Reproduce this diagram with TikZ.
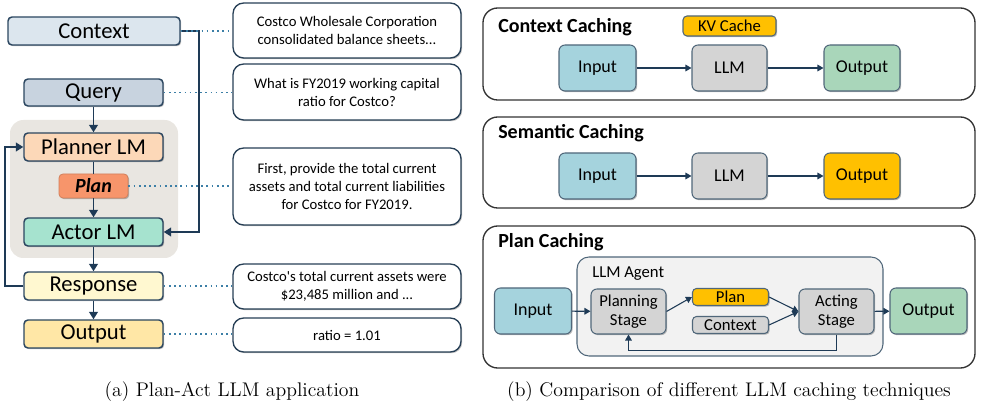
\documentclass[tikz,border=0pt]{standalone}
\usepackage{fontspec}
\newfontfamily\cf{Carlito}
\usetikzlibrary{arrows.meta,shadows}
\definecolor{edgeL}{HTML}{2B4660}
\definecolor{lineC}{HTML}{1E3A56}
\definecolor{ctxF}{HTML}{DCE6EE}
\definecolor{qryF}{HTML}{C8D3DF}
\definecolor{plnF}{HTML}{FCD8B8}
\definecolor{planF}{HTML}{F7956B}
\definecolor{actF}{HTML}{A6E3CF}
\definecolor{rspF}{HTML}{FFF8D0}
\definecolor{outF}{HTML}{FFE7A6}
\definecolor{bgG}{HTML}{E9E6E1}
\definecolor{dotC}{HTML}{3C7FA6}
\definecolor{inF}{HTML}{A5D3DD}
\definecolor{llmF}{HTML}{D4D4D4}
\definecolor{gOutF}{HTML}{A9D6BA}
\definecolor{gold}{HTML}{FFC000}
\definecolor{agF}{HTML}{F2F2F2}
\definecolor{edgeR}{HTML}{50677A}
\tikzset{
  shd/.style={drop shadow={shadow xshift=0.9pt,shadow yshift=-0.9pt,opacity=0.25,fill=black}},
  sz/.style 2 args={minimum width=#1*0.75pt, minimum height=#2*0.75pt},
  lbox/.style={draw=edgeL, line width=1.1pt, rounded corners=3pt, inner sep=0pt, shd,
    font=\cf\fontsize{17}{20}\selectfont},
  tbox/.style={draw=edgeL!90!black, line width=1pt, rounded corners=8pt, fill=white, inner sep=0pt,
    sz={228}{#1}, align=center, font=\cf\fontsize{11}{13.5}\selectfont, shd},
  conn/.style={draw=lineC, line width=1.2pt},
  arr/.style={conn, -{Triangle[length=5.5pt,width=6.5pt]}},
  dotl/.style={draw=dotC, line width=1.2pt, dash pattern=on 1.3pt off 2.6pt},
  panel/.style={draw=black!80, line width=1pt, rounded corners=11pt},
  ptitle/.style={anchor=west, inner sep=0pt, font=\cf\bfseries\fontsize{15}{17}\selectfont},
  rbox/.style={draw=edgeR, line width=0.8pt, rounded corners=4.5pt, inner sep=0pt, shd,
    align=center, font=\cf\fontsize{13.5}{15}\selectfont},
  sbox/.style={draw=edgeR, line width=0.8pt, rounded corners=3pt, inner sep=0pt, shd,
    align=center, font=\cf\fontsize{12.5}{14}\selectfont},
  rarr/.style={draw=lineC, line width=0.8pt, -{Triangle[length=4.5pt,width=5pt]}},
  capt/.style={font=\fontsize{14.8}{17}\selectfont, inner sep=0pt}
}
\begin{document}
\begin{tikzpicture}[x=0.75pt,y=-0.75pt]
\useasboundingbox (0,0) rectangle (982,409);
% ---------- left panel ----------
\fill[bgG, rounded corners=10pt] (10,120) rectangle (178,258);
\node[lbox, fill=ctxF, sz={172}{28}] (context) at (94,31) {Context};
\node[lbox, fill=qryF, sz={139}{27}] (query) at (93.5,92.5) {Query};
\node[lbox, fill=plnF, sz={139}{28}] (planner) at (93.5,147) {Planner LM};
\node[lbox, fill=planF, draw=planF!85!black, line width=0.6pt, sz={69}{24}, font=\cf\bfseries\itshape\fontsize{15}{17}\selectfont] (plan) at (93.5,186) {Plan};
\node[lbox, fill=actF, sz={139}{28}] (actor) at (93.5,232) {Actor LM};
\node[lbox, fill=rspF, sz={139}{28}] (response) at (93.5,286) {Response};
\node[lbox, fill=outF, sz={139}{28}] (output) at (93.5,334) {Output};

\draw[arr] (query.south) -- (planner.north);
\draw[conn] (planner.south) -- (plan.north);
\draw[arr] (plan.south) -- (actor.north);
\draw[arr] (actor.south) -- (response.north);
\draw[arr] (response.south) -- (output.north);
\coordinate (fbL) at (5,286);
\draw[arr] (response.west) -- (fbL) |- (planner.west);
\coordinate (ctxR) at (199,31);
\draw[arr] (context.east) -- (ctxR) |- (actor.east);

% text boxes
\node[tbox=55] (tb1) at (347,30.5) {Costco Wholesale Corporation\\consolidated balance sheets...};
\node[tbox=56] (tb2) at (347,92) {What is FY2019 working capital\\ratio for Costco?};
\node[tbox=77] (tb3) at (347,186.5) {First, provide the total current\\assets and total current liabilities\\for Costco for FY2019.};
\node[tbox=45] (tb4) at (347,286.5) {Costco's total current assets were\\\$23,485 million and ...};
\node[tbox=34] (tb5) at (347,335) {ratio = 1.01};

\draw[dotl] (context.east) -- (context.east -| tb1.west);
\draw[dotl] (query.east) -- (query.east -| tb2.west);
\draw[dotl] (plan.east) -- (plan.east -| tb3.west);
\draw[dotl] (response.east) -- (response.east -| tb4.west);
\draw[dotl] (output.east) -- (output.east -| tb5.west);

\node[capt] (capa) at (232,392) {(a) Plan-Act LLM application};

% ---------- right panel ----------
% Context caching
\draw[panel] (483,8) rectangle (975,100);
\node[ptitle] (t1) at (498,27) {Context Caching};
\node[sbox, fill=gold, sz={93}{20}] (kv) at (729.5,26) {KV Cache};
\node[rbox, fill=inF, sz={77}{46}] (in1) at (597.5,68) {Input};
\node[rbox, fill=llmF, sz={75}{46}] (llm1) at (729.5,68) {LLM};
\node[rbox, fill=gOutF, sz={76}{46}] (out1) at (862,68) {Output};
\draw[rarr] (in1) -- (llm1);
\draw[rarr] (llm1) -- (out1);

% Semantic caching
\draw[panel] (483,117) rectangle (975,208);
\node[ptitle] (t2) at (498,133) {Semantic Caching};
\node[rbox, fill=inF, sz={77}{46}] (in2) at (597.5,176) {Input};
\node[rbox, fill=llmF, sz={75}{46}] (llm2) at (729.5,176) {LLM};
\node[rbox, fill=gold, sz={76}{46}] (out2) at (862,176) {Output};
\draw[rarr] (in2) -- (llm2);
\draw[rarr] (llm2) -- (out2);

% Plan caching
\draw[panel] (483,226) rectangle (975,368);
\node[ptitle] (t3) at (498,242) {Plan Caching};
\draw[draw=edgeR, fill=agF, line width=0.8pt, rounded corners=9pt] (577,257) rectangle (883,356);
\node[anchor=west, inner sep=0pt, font=\cf\fontsize{12.5}{14}\selectfont] (agl) at (592,274) {LLM Agent};
\node[rbox, fill=inF, sz={77}{46}] (in3) at (533,311) {Input};
\node[sbox, fill=llmF, sz={75}{45}, rounded corners=4.5pt] (pstage) at (628.5,311.5) {Planning\\Stage};
\node[sbox, fill=gold, sz={76}{17}] (plan3) at (730.5,297) {Plan};
\node[sbox, fill=llmF, sz={76}{17}] (ctx3) at (730.5,325) {Context};
\node[sbox, fill=llmF, sz={75}{45}, rounded corners=4.5pt] (astage) at (836.5,311.5) {Acting\\Stage};
\node[rbox, fill=gOutF, sz={77}{46}] (out3) at (928.5,311) {Output};
\draw[rarr] (in3) -- (pstage);
\draw[rarr] (pstage.east) -- (plan3.west);
\draw[rarr] (plan3.east) -- (astage.west);
\draw[rarr] (ctx3.east) -- (astage.west);
\draw[rarr] (astage) -- (out3);
\draw[rarr] (astage.south) -- ++(0,16) -| (pstage.south);

\node[capt] (capb) at (729,392) {(b) Comparison of different LLM caching techniques};
\end{tikzpicture}
\end{document}
